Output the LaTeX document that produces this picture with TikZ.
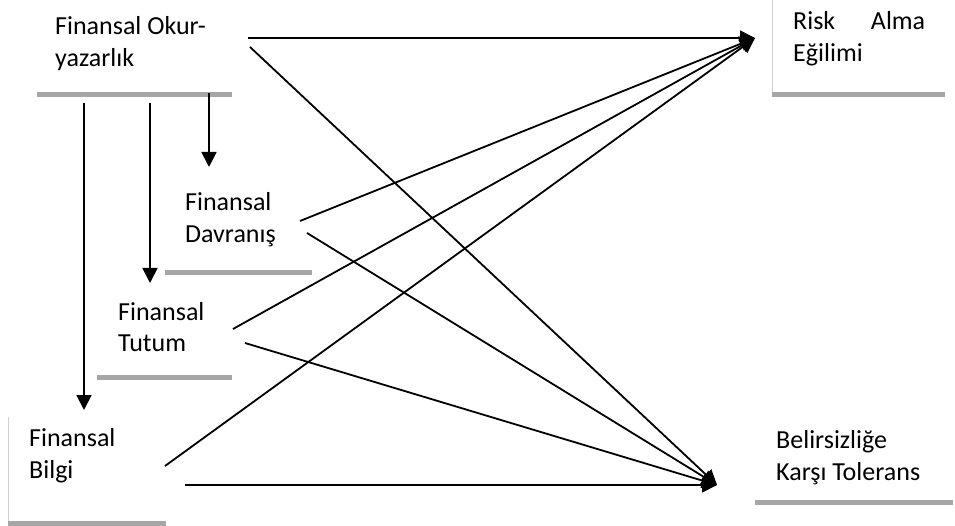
\documentclass[tikz,border=0pt]{standalone}
\usepackage{fontspec}
\setmainfont{Carlito}
\usetikzlibrary{arrows.meta}
\definecolor{barg}{RGB}{166,166,166}
\definecolor{edgeg}{RGB}{208,208,208}
\begin{document}
\begin{tikzpicture}[x=1pt,y=-1pt,
  lbl/.style={anchor=base west,inner sep=0pt,align=left,font=\fontsize{26}{32}\selectfont},
  bar/.style={draw=barg,line width=5pt},
  thin/.style={draw=edgeg,line width=1pt},
  arr/.style={draw=black,line width=1.8pt,-{Triangle[length=15pt,width=15pt]}}]
\useasboundingbox (0,0) rectangle (955,526);
% text nodes (anchor = baseline of last line; with text width: first line)
\node[lbl] (okur) at (55,67) {Finansal Okur-\\yazarlık};
\node[lbl,text width=132pt] (risk) at (793,30) {Risk\hfill Alma\\Eğilimi};
\node[lbl] (davr) at (185,243) {Finansal\\Davranış};
\node[lbl] (tutum) at (118,352) {Finansal\\Tutum};
\node[lbl] (bilgi) at (29,478) {Finansal\\Bilgi};
\node[lbl] (beli) at (776,480) {Belirsizliğe\\Karşı Tolerans};
% bars and frame lines
\draw[bar] (37,95) -- (232,95);
\draw[thin] (772,0) -- (772,95);
\draw[bar] (772,95) -- (945,95);
\draw[bar] (165,273) -- (312,273);
\draw[bar] (97,377) -- (232,377);
\draw[thin] (8,417) -- (8,523);
\draw[bar] (8,523) -- (166,523);
\draw[bar] (755,502) -- (953,502);
% connector points
\coordinate (o1) at (84,103);
\coordinate (o2) at (150,103);
\coordinate (o3) at (209,93);
\coordinate (bilgiIn) at (84,410);
\coordinate (tutumIn) at (150,283);
\coordinate (davrIn) at (209,167);
\coordinate (riskIn) at (755,38);
\coordinate (beliIn) at (717,485);
\coordinate (oR) at (248,38);
\coordinate (oB) at (250,47);
\coordinate (dR) at (300,221);
\coordinate (dB) at (307,233);
\coordinate (tR) at (233,329);
\coordinate (tB) at (245,343);
\coordinate (bR) at (165,466);
\coordinate (bB) at (185,485);
% vertical arrows
\draw[arr] (o1) -- (bilgiIn);
\draw[arr] (o2) -- (tutumIn);
\draw[arr] (o3) -- (davrIn);
% diagonal arrows
\draw[arr] (oR) -- (riskIn);
\draw[arr] (oB) -- (beliIn);
\draw[arr] (dR) -- (riskIn);
\draw[arr] (dB) -- (beliIn);
\draw[arr] (tR) -- (riskIn);
\draw[arr] (tB) -- (beliIn);
\draw[arr] (bR) -- (riskIn);
\draw[arr] (bB) -- (beliIn);
\end{tikzpicture}
\end{document}
